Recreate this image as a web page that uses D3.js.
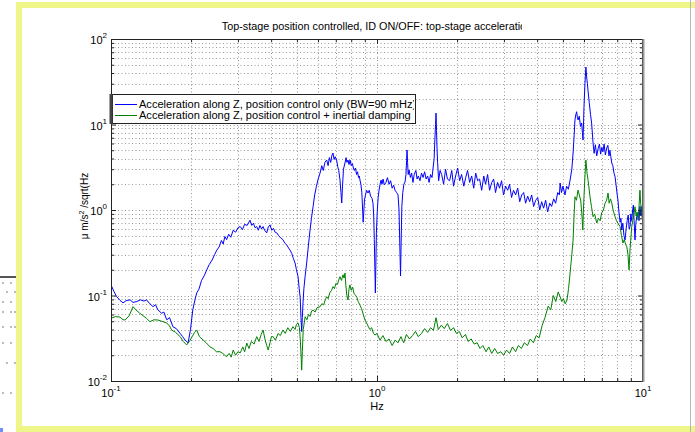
<!DOCTYPE html>
<html><head><meta charset="utf-8">
<script src="https://cdn.jsdelivr.net/npm/d3@7/dist/d3.min.js"></script>
<style>
body{margin:0;background:#fff}
svg{display:block}
text{font-family:"Liberation Sans",Arial,Helvetica,sans-serif;fill:#000}
</style>
</head><body>
<svg id="chart" width="695" height="432"></svg>
<script>
// ---------- data ----------
const titleText = "Top-stage position controlled, ID ON/OFF: top-stage acceleration";
const xLabelText = "Hz";
const yLabelParts = ["\u03bc m/s", "2", " /sqrt(Hz"];
const legendLabels = [
  "Acceleration along Z, position control only (BW=90 mHz)",
  "Acceleration along Z, position control + inertial damping"
];
const xDomain = [0.1, 10];
const yDomain = [0.01, 100];
const xTickExponents = [-1, 0, 1];
const yTickExponents = [-2, -1, 0, 1, 2];
const seriesColors = ["#0000ff", "#008000"];

// [frequency Hz, acceleration µm/s²/√Hz]
const blueSeries = [
[0.100,0.133],[0.1025,0.112],[0.105,0.097],[0.108,0.088],[0.111,0.082],[0.114,0.087],[0.118,0.089],[0.121,0.083],[0.125,0.085],[0.129,0.089],[0.133,0.086],[0.136,0.089],[0.140,0.080],[0.144,0.074],[0.147,0.078],[0.150,0.068],[0.155,0.062],[0.158,0.064],[0.162,0.052],[0.166,0.055],[0.171,0.043],[0.176,0.041],[0.182,0.036],[0.186,0.033],[0.190,0.030],[0.195,0.028],[0.199,0.040],[0.203,0.068],[0.207,0.090],[0.210,0.107],[0.214,0.118],[0.219,0.150],[0.224,0.170],[0.229,0.199],[0.234,0.230],[0.240,0.26],[0.245,0.30],[0.250,0.34],[0.255,0.37],[0.260,0.44],[0.264,0.40],[0.268,0.49],[0.272,0.45],[0.277,0.52],[0.282,0.48],[0.288,0.58],[0.294,0.55],[0.300,0.62],[0.306,0.64],[0.312,0.59],[0.318,0.68],[0.325,0.66],[0.333,0.76],[0.338,0.66],[0.343,0.70],[0.348,0.62],[0.353,0.64],[0.358,0.58],[0.363,0.66],[0.368,0.60],[0.373,0.64],[0.378,0.58],[0.385,0.54],[0.390,0.63],[0.396,0.67],[0.402,0.58],[0.408,0.61],[0.414,0.55],[0.420,0.54],[0.427,0.50],[0.435,0.47],[0.443,0.45],[0.450,0.41],[0.458,0.39],[0.465,0.36],[0.471,0.34],[0.478,0.31],[0.485,0.27],[0.492,0.24],[0.498,0.20],[0.505,0.166],[0.510,0.12],[0.514,0.097],[0.518,0.055],[0.521,0.038],[0.524,0.055],[0.527,0.082],[0.531,0.12],[0.537,0.17],[0.544,0.24],[0.552,0.38],[0.560,0.58],[0.567,0.80],[0.575,1.09],[0.583,1.5],[0.592,1.9],[0.601,2.3],[0.611,2.71],[0.620,3.3],[0.628,2.9],[0.637,3.6],[0.647,3.84],[0.655,3.3],[0.662,4.1],[0.670,3.6],[0.676,4.3],[0.683,4.64],[0.690,3.9],[0.696,4.2],[0.705,3.84],[0.712,3.2],[0.718,2.9],[0.726,2.24],[0.732,1.6],[0.737,1.21],[0.742,1.9],[0.748,3.0],[0.758,3.55],[0.765,4.1],[0.771,3.6],[0.778,3.84],[0.785,3.4],[0.792,3.84],[0.800,3.3],[0.808,3.5],[0.815,3.1],[0.822,2.9],[0.830,3.1],[0.838,2.6],[0.845,2.8],[0.852,2.4],[0.858,2.5],[0.863,2.24],[0.870,2.0],[0.877,1.6],[0.883,1.0],[0.887,0.72],[0.892,0.95],[0.897,1.31],[0.905,1.5],[0.914,1.7],[0.925,1.58],[0.935,1.7],[0.946,1.45],[0.958,1.37],[0.966,1.2],[0.972,0.85],[0.977,0.45],[0.982,0.20],[0.986,0.107],[0.990,0.22],[0.995,0.55],[1.002,0.95],[1.010,1.4],[1.018,1.7],[1.027,2.0],[1.036,2.24],[1.044,2.0],[1.054,2.3],[1.065,1.96],[1.080,2.1],[1.095,2.39],[1.110,2.0],[1.125,2.2],[1.140,1.8],[1.155,1.95],[1.169,1.7],[1.185,1.6],[1.200,1.5],[1.210,1.0],[1.218,0.40],[1.226,0.169],[1.232,0.40],[1.240,1.1],[1.250,1.6],[1.262,2.0],[1.275,2.13],[1.285,2.6],[1.292,3.8],[1.297,5.03],[1.303,3.6],[1.310,2.6],[1.320,2.94],[1.335,2.4],[1.350,2.7],[1.365,2.1],[1.380,2.6],[1.400,2.9],[1.415,2.3],[1.430,2.5],[1.451,2.2],[1.470,2.7],[1.490,2.4],[1.510,2.8],[1.530,2.3],[1.550,2.5],[1.570,2.1],[1.590,2.6],[1.610,2.4],[1.625,3.1],[1.640,4.0],[1.650,6.59],[1.660,10.0],[1.667,13.6],[1.674,8.5],[1.682,5.03],[1.690,3.6],[1.705,2.2],[1.726,2.9],
[1.75,2.6],[1.78,2.0],[1.81,3.0],[1.84,2.3],[1.875,2.2],[1.91,2.9],[1.94,1.9],[1.975,2.5],[2.01,3.1],[2.045,2.2],[2.08,2.6],[2.12,1.9],[2.155,2.4],[2.19,2.9],[2.23,2.1],[2.27,2.5],[2.31,1.8],[2.35,2.7],[2.39,2.2],[2.43,2.3],[2.475,1.7],[2.52,2.5],[2.56,2.0],[2.605,2.6],[2.65,1.7],[2.70,2.1],[2.745,2.3],[2.79,1.6],[2.84,2.1],[2.89,1.8],[2.94,2.2],[2.99,1.5],[3.045,1.9],[3.10,1.7],[3.15,2.0],[3.205,1.4],[3.26,1.7],[3.32,1.5],[3.38,1.8],[3.44,1.25],[3.50,1.5],[3.56,1.6],[3.62,1.2],[3.685,1.45],[3.75,1.25],[3.815,1.5],[3.88,1.1],[3.95,1.3],[4.02,1.4],[4.09,1.0],[4.16,1.25],[4.23,1.05],[4.305,1.3],[4.38,0.95],[4.46,1.2],[4.535,1.1],[4.615,1.35],[4.695,1.2],[4.78,1.6],
[4.85,1.5],[4.88,2.07],[4.94,1.6],[5.00,1.9],[5.09,1.5],[5.16,1.9],[5.24,1.75],[5.32,2.24],[5.40,3.0],[5.46,4.64],[5.51,7.5],[5.55,11.3],[5.59,13.0],[5.63,14.1],[5.67,12.0],[5.70,11.3],[5.76,12.5],[5.82,9.5],[5.88,10.4],[5.92,8.0],[5.95,6.59],[5.98,11.0],[6.00,16.2],[6.05,30],[6.10,47],[6.14,36],[6.18,30],[6.21,25.3],[6.28,18],[6.35,13],[6.41,10.4],[6.49,6.08],[6.55,4.6],[6.62,5.8],[6.70,4.3],[6.78,5.2],[6.86,5.9],[6.93,4.5],[7.00,5.4],[7.07,4.8],[7.14,5.9],[7.22,4.4],[7.30,5.3],[7.38,5.7],[7.45,4.3],[7.51,5.0],[7.57,4.2],[7.63,3.55],[7.70,3.3],[7.78,2.7],[7.85,2.45],[7.93,1.9],[8.00,1.5],[8.05,1.31],[8.12,0.95],[8.20,0.72],[8.26,0.80],[8.32,0.583],[8.40,0.70],[8.48,0.50],[8.56,0.446],[8.64,0.60],[8.72,0.75],[8.80,0.874],[8.87,0.60],[8.94,0.638],[9.00,0.90],[9.07,0.75],[9.14,1.0],[9.20,1.14],[9.26,0.75],[9.33,0.446],[9.40,0.70],[9.48,0.85],[9.58,0.923],[9.66,0.75],[9.74,1.1],[9.82,0.85],[9.89,1.093],[9.95,0.80],[10.0,0.874]
];

const greenSeries = [
[0.100,0.0545],[0.104,0.0565],[0.108,0.056],[0.111,0.052],[0.113,0.0517],[0.117,0.058],[0.121,0.074],[0.124,0.068],[0.128,0.0624],[0.132,0.058],[0.136,0.054],[0.140,0.0494],[0.145,0.052],[0.150,0.0517],[0.155,0.050],[0.162,0.0477],[0.166,0.044],[0.169,0.0395],[0.175,0.037],[0.182,0.033],[0.187,0.029],[0.1925,0.0264],[0.197,0.029],[0.202,0.033],[0.206,0.037],[0.210,0.0395],[0.215,0.033],[0.222,0.0302],[0.228,0.028],[0.235,0.0252],[0.242,0.024],[0.249,0.022],[0.257,0.0220],[0.263,0.021],[0.268,0.020],[0.272,0.0192],[0.278,0.021],[0.283,0.019],[0.288,0.0230],[0.294,0.020],[0.300,0.022],[0.306,0.0213],[0.313,0.025],[0.318,0.022],[0.324,0.0278],[0.330,0.024],[0.337,0.029],[0.345,0.027],[0.353,0.033],[0.360,0.029],[0.367,0.035],[0.373,0.0395],[0.380,0.030],[0.385,0.026],[0.390,0.0230],[0.396,0.028],[0.401,0.033],[0.407,0.0330],[0.415,0.030],[0.425,0.036],[0.433,0.034],[0.443,0.0395],[0.452,0.036],[0.462,0.042],[0.472,0.038],[0.483,0.0432],[0.492,0.040],[0.498,0.046],[0.505,0.0477],[0.511,0.042],[0.515,0.030],[0.519,0.018],[0.521,0.0134],[0.524,0.022],[0.528,0.040],[0.537,0.0565],[0.545,0.052],[0.553,0.060],[0.560,0.057],[0.568,0.066],[0.575,0.0677],[0.585,0.064],[0.595,0.072],[0.611,0.074],[0.620,0.080],[0.630,0.078],[0.640,0.090],[0.647,0.0968],[0.655,0.092],[0.665,0.108],[0.675,0.115],[0.683,0.127],[0.692,0.120],[0.700,0.138],[0.710,0.135],[0.718,0.152],[0.726,0.166],[0.735,0.150],[0.745,0.175],[0.752,0.160],[0.758,0.183],[0.764,0.130],[0.770,0.10],[0.778,0.0886],[0.785,0.120],[0.791,0.133],[0.800,0.115],[0.810,0.125],[0.820,0.105],[0.830,0.101],[0.840,0.095],[0.850,0.085],[0.863,0.077],[0.875,0.070],[0.888,0.060],[0.900,0.052],[0.913,0.048],[0.925,0.044],[0.940,0.040],[0.955,0.042],[0.970,0.036],[0.983,0.0345],
[1.00,0.036],[1.026,0.030],[1.053,0.034],[1.08,0.029],[1.11,0.031],[1.14,0.026],[1.17,0.030],[1.20,0.028],[1.23,0.033],[1.26,0.028],[1.29,0.035],[1.325,0.031],[1.36,0.034],[1.395,0.038],[1.43,0.033],[1.47,0.036],[1.51,0.041],[1.55,0.037],[1.59,0.042],[1.63,0.039],[1.667,0.055],[1.70,0.040],[1.745,0.045],[1.79,0.041],[1.84,0.047],[1.89,0.039],[1.94,0.042],[1.99,0.036],[2.04,0.038],[2.09,0.032],[2.15,0.035],[2.20,0.029],[2.26,0.031],[2.32,0.027],[2.38,0.028],[2.44,0.024],[2.50,0.026],[2.57,0.022],[2.63,0.025],[2.70,0.021],[2.77,0.024],[2.84,0.021],[2.92,0.022],[2.99,0.020],[3.07,0.023],[3.15,0.021],[3.23,0.025],[3.32,0.022],[3.40,0.026],[3.49,0.024],[3.58,0.028],[3.68,0.026],[3.77,0.031],[3.87,0.028],[3.97,0.034],[4.07,0.032],[4.18,0.045],[4.28,0.055],[4.40,0.075],[4.50,0.068],[4.60,0.10],[4.70,0.085],[4.80,0.11],[4.88,0.0968],
[4.95,0.085],[5.02,0.092],[5.10,0.080],[5.18,0.0886],[5.25,0.12],[5.32,0.183],[5.40,0.30],[5.46,0.446],[5.51,0.90],[5.55,1.43],[5.62,1.3],[5.70,1.71],[5.76,1.5],[5.83,1.31],[5.89,0.9],[5.94,0.583],[5.97,1.0],[6.00,1.43],[6.05,2.5],[6.10,3.84],[6.16,2.71],[6.22,2.2],[6.32,1.43],[6.40,1.1],[6.49,0.835],[6.58,0.90],[6.70,0.705],[6.80,0.80],[6.90,0.75],[6.99,0.923],[7.10,1.0],[7.20,1.2],[7.30,1.3],[7.39,1.58],[7.46,1.2],[7.55,1.35],[7.63,1.21],[7.72,1.0],[7.85,0.835],[7.95,0.75],[8.05,0.70],[8.20,0.638],[8.30,0.50],[8.41,0.411],[8.50,0.45],[8.60,0.40],[8.69,0.372],[8.78,0.30],[8.86,0.199],[8.94,0.35],[9.07,0.638],[9.15,0.75],[9.25,0.9],[9.33,1.093],[9.42,0.85],[9.50,0.95],[9.58,0.764],[9.66,1.1],[9.74,1.71],[9.80,1.2],[9.89,0.923],[9.95,0.80],[10.0,0.705]
];

// ---------- layout ----------
const L = 111, R = 643, T = 39, B = 381;
const svg = d3.select("#chart");
const x = d3.scaleLog().domain(xDomain).range([L, R]);
const y = d3.scaleLog().domain(yDomain).range([B, T]);

// outer yellow frame
svg.append("rect").attr("x", 19).attr("y", 5).attr("width", 690).attr("height", 424)
  .attr("fill", "none").attr("stroke", "#eef68a").attr("stroke-width", 6);
svg.append("line").attr("x1", 690.5).attr("x2", 690.5).attr("y1", 0).attr("y2", 432)
  .attr("stroke", "#b8b8b8").attr("stroke-width", 1);

// left-edge decoration (partial neighbouring figure)
svg.append("line").attr("x1", 0).attr("x2", 16).attr("y1", 277).attr("y2", 277)
  .attr("stroke", "#555").attr("stroke-width", 2);
const dotRows = [[283,[3,11]],[292,[7,15]],[302,[3,11]],[312,[3,11,15]],[327,[3,11,15]],[343,[3,11]],[363,[7,15]],[393,[3,11]]];
dotRows.forEach(([yy, xs]) => xs.forEach(xx =>
  svg.append("rect").attr("x", xx - 0.7).attr("y", yy - 0.7).attr("width", 1.4).attr("height", 1.4).attr("fill", "#777")));
svg.append("rect").attr("x", 0).attr("y", 428).attr("width", 3).attr("height", 4).attr("fill", "#6f8fff");

// minor/major tick values
function logTicks(dom) {
  const out = [];
  for (let e = Math.round(Math.log10(dom[0])); e < Math.round(Math.log10(dom[1])); e++)
    for (let k = 1; k <= 9; k++) out.push(k * Math.pow(10, e));
  out.push(dom[1]);
  return out;
}
const xAll = logTicks(xDomain), yAll = logTicks(yDomain);
const xMajor = xTickExponents.map(e => Math.pow(10, e));
const yMajor = yTickExponents.map(e => Math.pow(10, e));
const xMinor = xAll.filter(v => !xMajor.some(m => Math.abs(m - v) < 1e-9));
const yMinor = yAll.filter(v => !yMajor.some(m => Math.abs(m - v) < 1e-9));

// grid (dotted)
const grid = svg.append("g").attr("stroke", "#000").attr("stroke-opacity", 0.4)
  .attr("stroke-width", 1).attr("stroke-dasharray", "1,2.5");
xAll.forEach(v => grid.append("line").attr("x1", Math.round(x(v)) + 0.5).attr("x2", Math.round(x(v)) + 0.5)
  .attr("y1", T).attr("y2", B));
yAll.forEach(v => grid.append("line").attr("y1", Math.round(y(v)) + 0.5).attr("y2", Math.round(y(v)) + 0.5)
  .attr("x1", L).attr("x2", R));

// series
svg.append("clipPath").attr("id", "plotClip").append("rect")
  .attr("x", L).attr("y", T).attr("width", R - L).attr("height", B - T);
const line = d3.line().x(d => x(d[0])).y(d => y(d[1]));
const plot = svg.append("g").attr("clip-path", "url(#plotClip)");
[blueSeries, greenSeries].forEach((s, i) =>
  plot.append("path").datum(s).attr("d", line).attr("fill", "none")
    .attr("stroke", seriesColors[i]).attr("stroke-width", 1).attr("stroke-linejoin", "round"));

// axes ticks (inward)
function addAxis(gen, tr) {
  const g = svg.append("g").attr("transform", tr).call(gen);
  g.select(".domain").remove();
  g.selectAll("line").attr("stroke", "#222");
  g.selectAll("text").remove();
}
[[xMajor, 5], [xMinor, 3]].forEach(([vals, len]) => {
  addAxis(d3.axisBottom(x).tickValues(vals).tickSizeInner(-len).tickSizeOuter(0).tickFormat(""), `translate(0,${B})`);
  addAxis(d3.axisTop(x).tickValues(vals).tickSizeInner(-len).tickSizeOuter(0).tickFormat(""), `translate(0,${T})`);
});
[[yMajor, 5], [yMinor, 3]].forEach(([vals, len]) => {
  addAxis(d3.axisLeft(y).tickValues(vals).tickSizeInner(-len).tickSizeOuter(0).tickFormat(""), `translate(${L},0)`);
  addAxis(d3.axisRight(y).tickValues(vals).tickSizeInner(-len).tickSizeOuter(0).tickFormat(""), `translate(${R},0)`);
});

// box
svg.append("rect").attr("x", L + 0.5).attr("y", T + 0.5).attr("width", R - L - 1).attr("height", B - T)
  .attr("fill", "none").attr("stroke", "#222").attr("stroke-width", 1);
svg.append("line").attr("x1", R + 0.5).attr("x2", R + 0.5).attr("y1", T).attr("y2", B + 1)
  .attr("stroke", "#999").attr("stroke-width", 2);

// tick labels
xTickExponents.forEach(e => {
  const t = svg.append("text").attr("x", x(Math.pow(10, e))).attr("y", 397)
    .attr("text-anchor", "middle").attr("font-size", 11);
  t.append("tspan").text("10");
  t.append("tspan").attr("dy", -6).attr("font-size", 8).text(String(e));
});
yTickExponents.forEach(e => {
  const t = svg.append("text").attr("x", 107).attr("y", y(Math.pow(10, e)) + 5)
    .attr("text-anchor", "end").attr("font-size", 11);
  t.append("tspan").text("10");
  t.append("tspan").attr("dy", -6).attr("font-size", 8).text(String(e));
});

// axis labels
svg.append("text").attr("x", (L + R) / 2).attr("y", 410).attr("text-anchor", "middle")
  .attr("font-size", 11).text(xLabelText);
const yl = svg.append("text").attr("transform", "translate(88,206) rotate(-90)")
  .attr("text-anchor", "middle").attr("font-size", 10);
yl.append("tspan").text(yLabelParts[0]);
yl.append("tspan").attr("dy", -4).attr("font-size", 7).text(yLabelParts[1]);
yl.append("tspan").attr("dy", 4).text(yLabelParts[2]);

// title (clipped like the reference)
svg.append("clipPath").attr("id", "titleClip").append("rect")
  .attr("x", 0).attr("y", 0).attr("width", 522).attr("height", 38);
svg.append("text").attr("clip-path", "url(#titleClip)")
  .attr("x", (L + R) / 2).attr("y", 30).attr("text-anchor", "middle").attr("font-size", 10.8)
  .text(titleText);

// legend
const lg = { x: 112, y: 94, w: 303, h: 29 };
svg.append("clipPath").attr("id", "legClip").append("rect")
  .attr("x", lg.x).attr("y", lg.y).attr("width", lg.w - 1).attr("height", lg.h);
svg.append("rect").attr("x", lg.x + 0.5).attr("y", lg.y + 0.5).attr("width", lg.w).attr("height", lg.h)
  .attr("fill", "#fff").attr("stroke", "#222").attr("stroke-width", 1);
svg.append("line").attr("x1", L).attr("x2", L).attr("y1", lg.y).attr("y2", lg.y + lg.h + 1)
  .attr("stroke", "#444").attr("stroke-width", 3);
legendLabels.forEach((lab, i) => {
  const yy = lg.y + 10 + i * 11;
  svg.append("line").attr("x1", 115).attr("x2", 137).attr("y1", yy + 0.5).attr("y2", yy + 0.5)
    .attr("stroke", seriesColors[i]).attr("stroke-width", 1);
  svg.append("text").attr("clip-path", "url(#legClip)").attr("x", 139).attr("y", yy + 4)
    .attr("font-size", 11.05).text(lab);
});
</script>
</body></html>
